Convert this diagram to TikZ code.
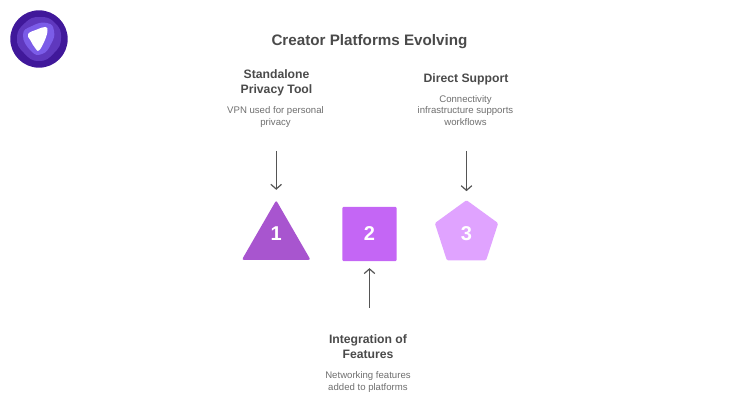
\documentclass[tikz,border=0pt]{standalone}
\usepackage{fontspec}
\setmainfont{Liberation Sans}
\usetikzlibrary{arrows.meta,shapes.geometric}
\definecolor{headcol}{HTML}{4A4A4A}
\definecolor{desccol}{HTML}{6E6E6E}
\definecolor{arrowcol}{HTML}{555555}
\definecolor{tricol}{HTML}{A855CF}
\definecolor{squarecol}{HTML}{C466F5}
\definecolor{pentcol}{HTML}{E0A3FF}
\definecolor{logoa}{HTML}{40189A}
\definecolor{logob}{HTML}{5F38BE}
\definecolor{logoc}{HTML}{7B5CE8}
\tikzset{
  heading/.style={align=center,text=headcol,font=\bfseries\fontsize{9.15}{11.25}\selectfont},
  descr/.style={align=center,text=desccol,font=\fontsize{7.2}{8.8}\selectfont},
  numlabel/.style={text=white,font=\bfseries\fontsize{15}{16}\selectfont},
  pointer/.style={draw=arrowcol,line width=0.9pt,-{Straight Barb[length=3.5pt,width=8pt]}},
}
\begin{document}
\begin{tikzpicture}[x=0.75pt,y=-0.75pt]
  \useasboundingbox (0,0) rectangle (740,420);
  % logo
  \fill[logoa] (39,39) circle (28.7);
  \fill[logob] plot[smooth cycle,tension=0.9] coordinates {(17,38) (25,23) (40,17) (55,23) (61,38) (54,53) (39,61) (24,53)};
  \fill[logoc] plot[smooth cycle,tension=0.9] coordinates {(23,35) (32,26) (47,23) (54,31) (51,44) (42,54) (31,51)};
  \fill[white] plot[smooth cycle,tension=0.7] coordinates {(28,34) (37,29.5) (45.5,27) (47.5,31) (44.5,41) (39,50.5) (35.5,48.5) (30.5,40.5)};
  % title
  \node[text=headcol,font=\bfseries\fontsize{11.4}{14}\selectfont] (title) at (369.5,42) {Creator Platforms Evolving};
  % shapes
  \node[regular polygon,regular polygon sides=3,minimum size=59.5pt,inner sep=0pt,fill=tricol,rounded corners=1.5pt] (one) at (276.2,240) {};
  \node[rectangle,minimum width=40.8pt,minimum height=40.8pt,inner sep=0pt,fill=squarecol,rounded corners=1pt] (two) at (369.5,234) {};
  \node[regular polygon,regular polygon sides=5,minimum size=50pt,inner sep=0pt,fill=pentcol,rounded corners=1pt] (three) at (466.5,233.5) {};
  \node[numlabel] (numone) at (276.2,233.5) {1};
  \node[numlabel] (numtwo) at (369.5,233.5) {2};
  \node[numlabel] (numthree) at (466.5,233.5) {3};
  % texts
  \node[heading] (headone) at (276.5,82.5) {Standalone\\Privacy Tool};
  \node[descr] (descone) at (275.5,117) {VPN used for personal\\privacy};
  \node[heading] (headthree) at (466,79) {Direct Support};
  \node[descr] (descthree) at (465.5,110.5) {Connectivity\\infrastructure supports\\workflows};
  \node[heading] (headtwo) at (368,347) {Integration of\\Features};
  \node[descr] (desctwo) at (368,382) {Networking features\\added to platforms};
  % arrows
  \coordinate (startone) at (276.2,151);
  \coordinate (starttwo) at (369.5,308);
  \coordinate (startthree) at (466.5,151);
  \draw[pointer,shorten >=7.5pt] (startone) -- (one.north);
  \draw[pointer,shorten >=5pt] (starttwo) -- (two.south);
  \draw[pointer,shorten >=6.5pt] (startthree) -- (three.north);
\end{tikzpicture}
\end{document}
